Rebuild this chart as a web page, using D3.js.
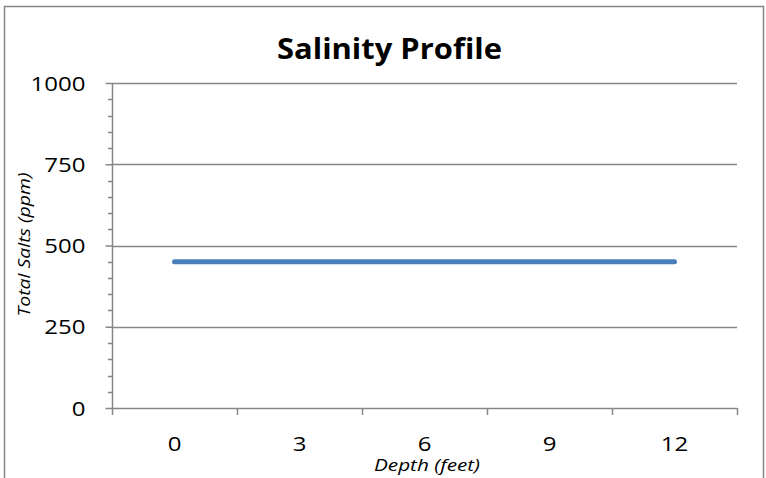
<!DOCTYPE html>
<html><head><meta charset="utf-8">
<script src="https://cdn.jsdelivr.net/npm/d3@7"></script>
<style>body{margin:0;background:#fff}svg{display:block}text{font-family:"Open Sans",sans-serif}</style>
</head><body>
<script>
const categories = ["0","3","6","9","12"];
const salinity = [450,450,450,450,450];
const yTicks = [0,250,500,750,1000];
const title = "Salinity Profile";
const xTitle = "Depth (feet)";
const yTitle = "Total Salts (ppm)";

const W=766,H=478;
const svg=d3.select("body").append("svg").attr("width",W).attr("height",H);
const grid="#868686";
const stretch=1.2;
function widen(sel,k){sel.each(function(){const n=this.getComputedTextLength();d3.select(this).attr("textLength",n*k).attr("lengthAdjust","spacingAndGlyphs");});}

// chart border
svg.append("path").attr("d",`M4.5,${H} V6.5 H763.5 V${H}`).attr("fill","none").attr("stroke",grid).attr("stroke-width",1.5);

const pL=112,pR=737,pT=83,pB=408;
const x=d3.scaleBand().domain(categories).range([pL,pR]);
const y=d3.scaleLinear().domain([0,1000]).range([pB,pT]);

// gridlines
svg.append("g").selectAll("line").data(yTicks.filter(d=>d>0)).join("line")
 .attr("x1",pL).attr("x2",pR).attr("y1",d=>Math.round(y(d))+0.5).attr("y2",d=>Math.round(y(d))+0.5)
 .attr("stroke",grid).attr("stroke-width",1.5);

// y axis
const yAxis=d3.axisLeft(y).tickValues(yTicks).tickFormat(d3.format("d")).tickSize(7).tickPadding(20);
const gy=svg.append("g").attr("transform",`translate(${pL+0.5},0)`).call(yAxis);
gy.select(".domain").attr("stroke",grid).attr("stroke-width",1.5).attr("d",`M0,${pT}V${pB}`);
gy.selectAll(".tick line").attr("stroke",grid).attr("stroke-width",1.5);
gy.selectAll(".tick text").attr("font-size",20).attr("fill","#000").attr("dy",null).attr("y",7).style("font-family","'Open Sans',sans-serif");
widen(gy.selectAll(".tick text"),stretch);
// minor ticks
svg.append("g").selectAll("line").data(d3.range(50,1000,50).filter(v=>v%250)).join("line")
 .attr("x1",pL-4).attr("x2",pL).attr("y1",d=>Math.round(y(d))+0.5).attr("y2",d=>Math.round(y(d))+0.5)
 .attr("stroke",grid).attr("stroke-width",1.5);

// x axis
const gx=svg.append("g").attr("transform",`translate(0,${pB+0.5})`).call(d3.axisBottom(x).tickSize(0));
gx.select(".domain").attr("stroke",grid).attr("stroke-width",1.5).attr("d",`M${pL},0H${pR}`);
gx.selectAll(".tick text").attr("font-size",20).attr("fill","#000").attr("dy",null).attr("y",42).style("font-family","'Open Sans',sans-serif");
widen(gx.selectAll(".tick text"),stretch);
// boundary ticks
const bounds=categories.map(c=>x(c)).concat([pR]);
svg.append("g").selectAll("line").data(bounds).join("line")
 .attr("x1",d=>Math.round(d)+0.5).attr("x2",d=>Math.round(d)+0.5).attr("y1",pB).attr("y2",pB+7)
 .attr("stroke",grid).attr("stroke-width",1.5);

// line
svg.append("path").datum(salinity.map((v,i)=>[categories[i],v]))
 .attr("d",d3.line().x(d=>x(d[0])+x.bandwidth()/2).y(d=>y(d[1])))
 .attr("fill","none").attr("stroke","#4a7ebb").attr("stroke-width",5).attr("stroke-linecap","round");

// titles
svg.append("text").attr("x",389.5).attr("y",59).attr("text-anchor","middle").attr("font-size",28).attr("font-weight","bold").text(title)
 .attr("textLength",225).attr("lengthAdjust","spacingAndGlyphs");
svg.append("text").attr("x",427).attr("y",470.5).attr("text-anchor","middle").attr("font-size",17).attr("font-style","italic").text(xTitle)
 .attr("textLength",106).attr("lengthAdjust","spacingAndGlyphs");
svg.append("text").attr("transform","translate(30,244.5) rotate(-90)").attr("text-anchor","middle").attr("font-size",17).attr("font-style","italic").text(yTitle)
 .attr("textLength",144).attr("lengthAdjust","spacingAndGlyphs");
</script>
</body></html>
